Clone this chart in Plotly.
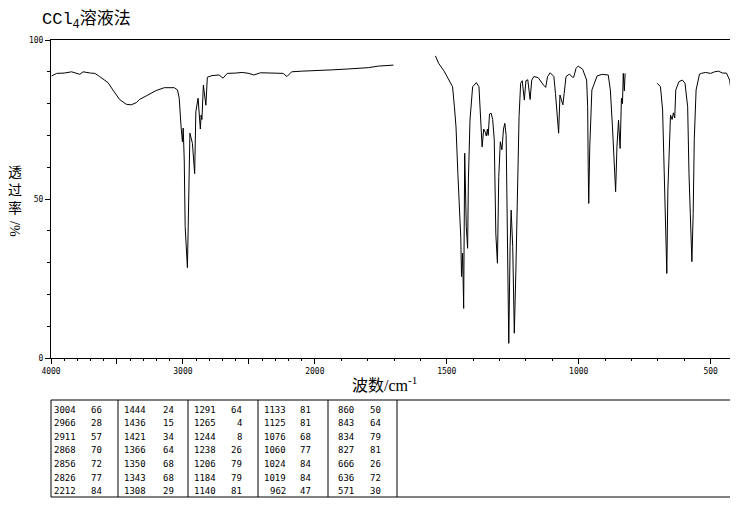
import plotly.graph_objects as go

# ---------------- data ----------------
# spectrum segment 1 (4000-1700 cm-1)
wn_seg1 = [3995, 3957, 3900, 3844, 3781, 3757, 3700, 3668, 3631, 3568,
           3531, 3480, 3430, 3392, 3354, 3329, 3279, 3203, 3141, 3066,
           3041, 3028, 3015, 3004, 2998, 2990, 2983, 2966, 2958, 2947,
           2928, 2911, 2902, 2885, 2868, 2862, 2856, 2845, 2826, 2815,
           2780, 2726, 2696, 2664, 2600, 2551, 2500, 2463, 2412, 2350,
           2274, 2240, 2212, 2176, 2100, 2000, 1936, 1872, 1797, 1759, 1702]
tr_seg1 = [88.7, 89.5, 89.6, 90.0, 89.2, 90.0, 89.6, 89.5, 88.5, 86.6,
           84.3, 81.3, 79.8, 79.6, 80.3, 81.3, 82.4, 84.1, 85.0, 85.0,
           84.3, 81.7, 73.3, 68.0, 72.3, 62.3, 41.3, 28.4, 45.6, 70.7,
           67.5, 58.0, 77.5, 81.7, 72.0, 76.4, 75.0, 85.8, 79.5, 88.3,
           88.8, 89.0, 88.0, 89.5, 89.6, 89.8, 89.5, 89.0, 89.7, 89.7,
           89.7, 89.5, 88.5, 90.0, 90.2, 90.3, 90.6, 90.9, 91.3, 91.8, 92.1]

# segment 2 (1545-825 cm-1)
wn_seg2 = [1543, 1531, 1510, 1490, 1478, 1471, 1465, 1458, 1452, 1447,
           1444, 1440, 1436, 1432, 1426, 1421, 1418, 1412, 1402, 1388,
           1378, 1372, 1366, 1360, 1354, 1350, 1346, 1343, 1338, 1332,
           1326, 1320, 1314, 1308, 1303, 1297, 1291, 1285, 1280, 1275,
           1270, 1265, 1260, 1256, 1250, 1244, 1238, 1232, 1226, 1220,
           1214, 1206, 1200, 1193, 1184, 1178, 1170, 1154, 1140, 1133,
           1125, 1118, 1108, 1094, 1088, 1076, 1071, 1060, 1055, 1048,
           1035, 1024, 1019, 1010, 1002, 985, 970, 966, 964, 962,
           958, 950, 930, 911, 888, 880, 872, 866, 860, 855,
           849, 843, 838, 834, 831, 827, 824]
tr_seg2 = [95.0, 92.7, 90.2, 87.4, 85.3, 79.0, 72.7, 58.1, 45.5, 38.0,
           25.6, 33.0, 15.6, 64.4, 41.3, 34.5, 56.0, 74.8, 85.3, 86.6,
           85.3, 76.0, 66.4, 72.0, 71.0, 69.8, 72.0, 70.0, 76.7, 77.0,
           75.0, 68.6, 39.0, 29.8, 57.0, 68.0, 65.5, 72.0, 73.8, 70.0,
           40.0, 4.6, 35.0, 46.5, 35.0, 7.8, 27.7, 58.0, 75.9, 86.4,
           87.2, 81.1, 87.2, 87.5, 81.3, 87.4, 88.5, 88.2, 86.5, 85.8,
           85.1, 88.5, 89.7, 88.5, 83.2, 70.7, 82.7, 79.6, 83.2, 88.5,
           89.3, 88.3, 88.3, 91.1, 91.8, 90.8, 87.4, 79.0, 60.2, 48.6,
           66.4, 84.3, 88.7, 89.2, 89.0, 84.3, 72.7, 59.6, 52.3, 66.4,
           74.8, 65.9, 81.7, 80.0, 89.5, 84.0, 89.5]

# segment 3 (700-400 cm-1)
wn_seg3 = [702, 690, 682, 676, 671, 666, 662, 656, 652, 646,
           641, 636, 632, 620, 607, 597, 587, 582, 576, 571,
           566, 562, 555, 542, 535, 520, 500, 485, 470, 455,
           440, 428, 418, 408]
tr_seg3 = [86.4, 85.3, 78.0, 58.1, 37.1, 26.6, 52.8, 70.7, 76.4, 75.0,
           77.1, 75.5, 84.3, 86.9, 87.4, 86.4, 79.0, 58.1, 39.2, 30.3,
           45.5, 68.6, 84.3, 89.3, 89.5, 89.8, 89.5, 90.0, 90.2, 89.6,
           89.6, 87.4, 81.1, 78.0]

# peak table
table_wn = [3004, 2966, 2911, 2868, 2856, 2826, 2212,
            1444, 1436, 1421, 1366, 1350, 1343, 1308,
            1291, 1265, 1244, 1238, 1206, 1184, 1140,
            1133, 1125, 1076, 1060, 1024, 1019, 962,
            860, 843, 834, 827, 666, 636, 571]
table_T = [66, 28, 57, 70, 72, 77, 84,
           24, 15, 34, 64, 68, 68, 29,
           64, 4, 8, 26, 79, 79, 81,
           81, 81, 68, 77, 84, 84, 47,
           50, 64, 79, 81, 26, 72, 30]

x_major_wn = [4000, 3500, 3000, 2500, 2000, 1500, 1000, 500]
x_major_lbl = ["4000", "", "3000", "", "2000", "1500", "1000", "500"]
y_major = [0, 50, 100]
y_title_chars = ["透", "过", "率"]


# ---------------- axis mapping (IR chart: scale doubles below 2000) -------
def wx(w):
    return (4000 - w) / 1000.0 if w >= 2000 else 2 + (2000 - w) / 500.0


xs, ys = [], []
for wl, tl in [(wn_seg1, tr_seg1), (wn_seg2, tr_seg2), (wn_seg3, tr_seg3)]:
    xs += [wx(w) for w in wl] + [None]
    ys += list(tl) + [None]

fig = go.Figure(go.Scatter(x=xs, y=ys, mode="lines",
                           line=dict(color="black", width=1),
                           connectgaps=False, hoverinfo="skip"))

# page body has an 8px margin: size the figure so the plot lands where intended
OFF = 8
W, H = 738 - OFF, 510 - OFF
L, R, T, B = 51, 737, 40, 358   # plot area in window pixels


def px(x):
    return (x - L) / (R - L)


def py(y):
    return (B - y) / (B - T)


tickfont = dict(family="DejaVu Sans Mono", size=8, color="black")
minor_x = [wx(w) for w in range(3900, 399, -100) if w % 500 != 0]

fig.update_layout(
    width=W, height=H,
    margin=dict(l=L - OFF, r=W - (R - OFF), t=T - OFF, b=H - (B - OFF), pad=0),
    paper_bgcolor="white", plot_bgcolor="white",
    showlegend=False,
    xaxis=dict(range=[0, 5.2], showgrid=False, zeroline=False,
               showline=True, mirror=True, linecolor="black", linewidth=1,
               ticks="outside", ticklen=5, tickcolor="black",
               tickvals=[wx(w) for w in x_major_wn], ticktext=x_major_lbl,
               tickfont=tickfont,
               minor=dict(tickmode="array", tickvals=minor_x, ticks="outside",
                          ticklen=2, tickcolor="black", showgrid=False)),
    yaxis=dict(range=[0, 100], showgrid=False, zeroline=False,
               showline=True, mirror=True, linecolor="black", linewidth=1,
               ticks="outside", ticklen=5, tickcolor="black",
               tickvals=y_major, ticktext=[str(v) for v in y_major],
               tickfont=tickfont,
               minor=dict(tickmode="array", tickvals=list(range(10, 100, 10)),
                          ticks="outside", ticklen=3, tickcolor="black",
                          showgrid=False)),
)

ann = []
# title
ann.append(dict(text="CCl<sub>4</sub>溶液法", x=px(40), y=py(20), xref="paper", yref="paper",
                xanchor="left", yanchor="middle", showarrow=False,
                font=dict(family="Liberation Mono, Noto Sans CJK SC", size=17, color="black")))
# x title
ann.append(dict(text="波数/cm<sup>-1</sup>", x=px(384), y=py(384), xref="paper", yref="paper",
                xanchor="center", yanchor="middle", showarrow=False,
                font=dict(family="Liberation Serif, Noto Sans CJK SC", size=16, color="black")))
# y title (vertical, upright CJK characters stacked)
ann.append(dict(text="<br>".join(y_title_chars), x=px(15), y=py(189), xref="paper", yref="paper",
                xanchor="center", yanchor="middle", showarrow=False,
                font=dict(family="Noto Sans CJK SC", size=14, color="black")))
ann.append(dict(text="/%", x=px(15), y=py(229), xref="paper", yref="paper",
                xanchor="center", yanchor="middle", showarrow=False, textangle=90,
                font=dict(family="Liberation Serif", size=14, color="black")))

# table
tb_top, tb_bot = 400, 497
seps = [118, 188, 258, 328, 397]
shapes = [dict(type="rect", xref="paper", yref="paper", x0=px(L), x1=px(R),
               y0=py(tb_top), y1=py(tb_bot), line=dict(color="black", width=1))]
for s in seps:
    shapes.append(dict(type="line", xref="paper", yref="paper", x0=px(s), x1=px(s),
                       y0=py(tb_top), y1=py(tb_bot), line=dict(color="black", width=1)))

wn_right = [78, 148, 218, 288, 356]
t_right = [104, 176, 244, 313, 383]
tfont = dict(family="DejaVu Sans Mono", size=9, color="black")
for i, (w, t) in enumerate(zip(table_wn, table_T)):
    g, r = divmod(i, 7)
    yy = py(409.5 + r * 13.6)
    ann.append(dict(text=str(w), x=px(wn_right[g]), y=yy, xref="paper", yref="paper",
                    xanchor="right", yanchor="middle", showarrow=False, font=tfont))
    ann.append(dict(text=str(t), x=px(t_right[g]), y=yy, xref="paper", yref="paper",
                    xanchor="right", yanchor="middle", showarrow=False, font=tfont))

fig.update_layout(annotations=ann, shapes=shapes)
fig.write_html("out.html")
